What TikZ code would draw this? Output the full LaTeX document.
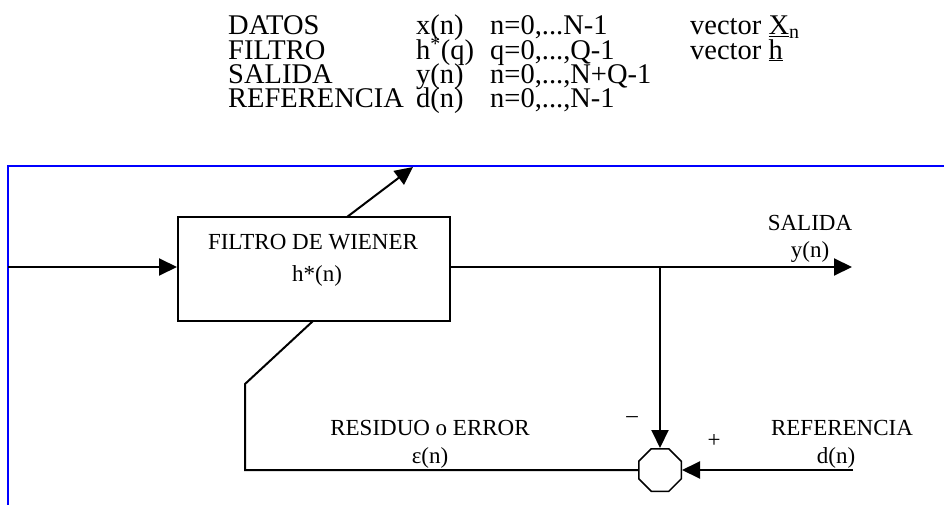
\documentclass[tikz,border=0pt]{standalone}
\usepackage{fontspec}
\setmainfont{Liberation Serif}
\usetikzlibrary{shapes.geometric}
\usetikzlibrary{arrows.meta}
\definecolor{frameblue}{HTML}{0000FF}
\tikzset{every text node part/.style={align=center}}
\tikzstyle{block} = [draw=black, line width=2pt, minimum width=272pt, minimum height=104pt, inner sep=0pt]
\tikzstyle{sumnode} = [draw=black, line width=1.5pt, regular polygon, regular polygon sides=8, minimum size=46pt, inner sep=0pt]
\tikzstyle{ln} = [draw, line width=2pt, -{Triangle[length=18pt,width=17pt]}]
\tikzstyle{wire} = [draw, line width=2pt]
\tikzstyle{lbl} = [inner sep=0pt, anchor=base, font=\fontsize{23}{28}\selectfont]
\tikzstyle{legend} = [inner sep=0pt, anchor=base west, font=\fontsize{28.5}{24.3}\selectfont]
\newcommand{\legrow}[4]{\makebox[188pt][l]{#1}\makebox[74pt][l]{#2}\makebox[200pt][l]{#3}#4}

\begin{document}
\begin{tikzpicture}[x=1pt, y=-1pt]
  \useasboundingbox (0,0) rectangle (944,505);
  % legend on top
  \node[legend] (datos) at (228,35) {\legrow{DATOS}{x(n)}{n=0,...N-1}{vector \underline{X}\textsubscript{n}}};
  \node[legend] (filtro) at ([yshift=-24.3pt]datos.base west) {\legrow{FILTRO}{h\textsuperscript{*}(q)}{q=0,...,Q-1}{vector \underline{h}}};
  \node[legend] (salidaleg) at ([yshift=-24.3pt]filtro.base west) {\legrow{SALIDA}{y(n)}{n=0,...,N+Q-1}{}};
  \node[legend] (referencialeg) at ([yshift=-24.3pt]salidaleg.base west) {\legrow{REFERENCIA}{d(n)}{n=0,...,N-1}{}};
  % frame
  \coordinate (framebot) at (8,505);
  \coordinate (framecorner) at (8,166);
  \coordinate (frameend) at (944,166);
  \draw[frameblue, line width=2.5pt] (framebot) -- (framecorner) -- (frameend);
  % filter
  \node[block] (wiener) at (314,269) {};
  \node[lbl] (wienertitle) at (313,249) {FILTRO DE WIENER};
  \node[lbl] (wienerh) at ([xshift=4pt,yshift=-32pt]wienertitle.base) {h*(n)};
  \coordinate (xin) at (8,267);
  \draw[ln] (xin) -- (xin -| wiener.west);
  \coordinate (adjfoot) at (347,217);
  \coordinate (adjtip) at (413,167);
  \draw[ln] (adjfoot) -- (adjtip);
  % output and sum
  \coordinate (tap) at (660,267);
  \coordinate (yout) at (852,267);
  \draw[ln] (xin -| wiener.east) -- (yout);
  \node[sumnode] (sum) at (660,470) {};
  \draw[ln] (tap) -- (sum.north);
  \coordinate (dref) at (853,470);
  \draw[ln] (dref) -- (sum.east);
  % error back to the filter
  \coordinate (fbcorner) at (245,470);
  \coordinate (fbknee) at (245,384);
  \coordinate (fbfoot) at (313,321);
  \draw[wire] (sum.west) -- (fbcorner) -- (fbknee) -- (fbfoot);
  % labels
  \node[lbl] (salida) at (810,230) {SALIDA};
  \node[lbl] (salidayn) at ([yshift=-27pt]salida.base) {y(n)};
  \node[lbl] (residuo) at (430,435) {RESIDUO o ERROR};
  \node[lbl] (residuoen) at ([yshift=-28pt]residuo.base) {ε(n)};
  \node[lbl] (referencia) at (842,435) {REFERENCIA};
  \node[lbl] (referenciadn) at ([xshift=-6pt,yshift=-28pt]referencia.base) {d(n)};
  \node[lbl] (menos) at (632,422) {--};
  \node[lbl] (mas) at (714,447) {+};
\end{tikzpicture}
\end{document}
